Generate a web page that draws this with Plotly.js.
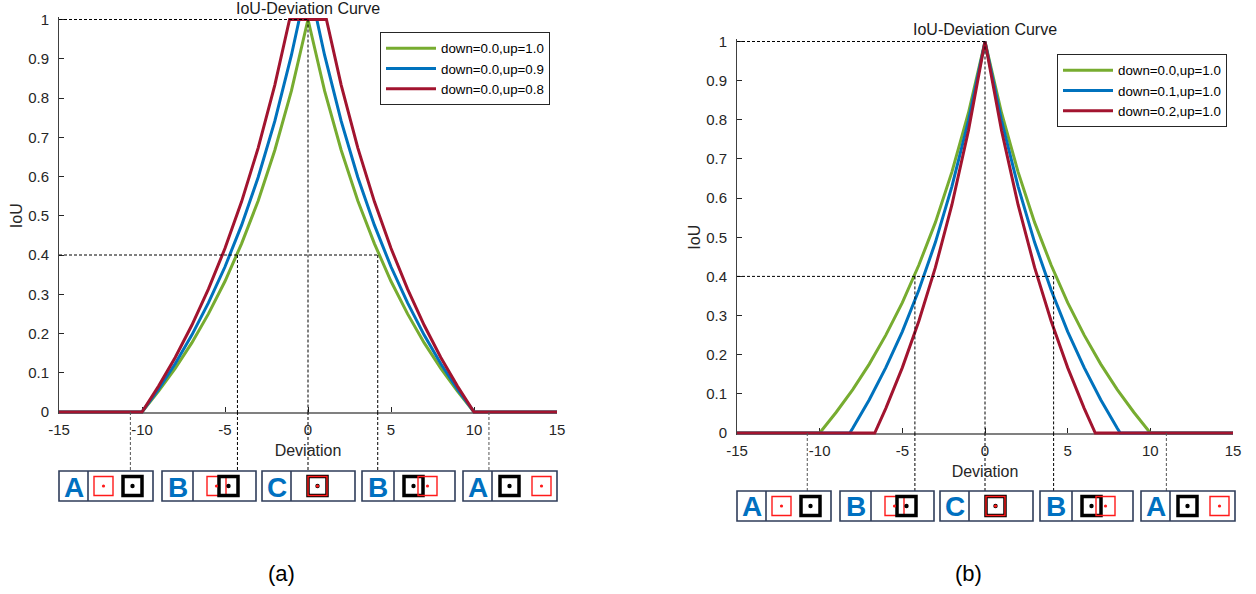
<!DOCTYPE html>
<html><head><meta charset="utf-8">
<script src="https://cdn.plot.ly/plotly-3.0.1.min.js"></script>
<style>html,body{margin:0;padding:0;background:#fff}#chart{width:1256px;height:594px}</style>
</head><body><div id="chart"></div>
<script>
// ---------------- data ----------------
// panel (a): down = 0.0, up = 1.0 / 0.9 / 0.8
const devGreenA = [-15,-10,-9,-8,-7,-6,-5,-4,-3,-2,-1,0,1,2,3,4,5,6,7,8,9,10,15];
const iouGreenA = [0,0,0.053,0.111,0.176,0.25,0.333,0.429,0.538,0.667,0.818,1,0.818,0.667,0.538,0.429,0.333,0.25,0.176,0.111,0.053,0,0];
const devBlueA  = [-15,-10,-9,-8,-7,-6,-5,-4,-3,-2,-1,-0.53,0.53,1,2,3,4,5,6,7,8,9,10,15];
const iouBlueA  = [0,0,0.058,0.123,0.196,0.278,0.370,0.476,0.598,0.741,0.909,1,1,0.909,0.741,0.598,0.476,0.370,0.278,0.196,0.123,0.058,0,0];
const devRedA   = [-15,-10,-9,-8,-7,-6,-5,-4,-3,-2,-1.11,1.11,2,3,4,5,6,7,8,9,10,15];
const iouRedA   = [0,0,0.066,0.139,0.221,0.313,0.417,0.536,0.673,0.833,1,1,0.833,0.673,0.536,0.417,0.313,0.221,0.139,0.066,0,0];
const namesA    = ['down=0.0,up=1.0','down=0.0,up=0.9','down=0.0,up=0.8'];

// panel (b): up = 1.0, down = 0.0 / 0.1 / 0.2
const devGreenB = [-15,-10,-9,-8,-7,-6,-5,-4,-3,-2,-1,0,1,2,3,4,5,6,7,8,9,10,15];
const iouGreenB = [0,0,0.053,0.111,0.176,0.25,0.333,0.429,0.538,0.667,0.818,1,0.818,0.667,0.538,0.429,0.333,0.25,0.176,0.111,0.053,0,0];
const devBlueB  = [-15,-8.18,-8,-7,-6,-5,-4,-3,-2,-1,0,1,2,3,4,5,6,7,8,8.18,15];
const iouBlueB  = [0,0,0.012,0.085,0.167,0.259,0.365,0.487,0.630,0.798,1,0.798,0.630,0.487,0.365,0.259,0.167,0.085,0.012,0,0];
const devRedB   = [-15,-6.67,-6,-5,-4,-3,-2,-1,0,1,2,3,4,5,6,6.67,15];
const iouRedB   = [0,0,0.063,0.167,0.286,0.423,0.583,0.773,1,0.773,0.583,0.423,0.286,0.167,0.063,0,0];
const namesB    = ['down=0.0,up=1.0','down=0.1,up=1.0','down=0.2,up=1.0'];

// axis ticks
const xTicks = [-15,-10,-5,0,5,10,15];
const xTickText = ['-15','-10','-5','0','5','10','15'];
const yTicks = [0,0.1,0.2,0.3,0.4,0.5,0.6,0.7,0.8,0.9,1];
const yTickText = ['0','0.1','0.2','0.3','0.4','0.5','0.6','0.7','0.8','0.9','1'];

// dashed reference guides (deviation where they stand, IoU where they start)
const guideDevA   = [-10.7,-4.25,0,4.2,10.9];
const guideFromA  = [0,0.4,1,0.4,0];
const levelA      = [1,0.4];
const levelEndA   = [0,4.2];
const guideDevB   = [-10.75,-4.24,0,4.15,10.97];
const guideFromB  = [0,0.4,1,0.4,0];
const levelB      = [1,0.4];
const levelEndB   = [0,4.15];

// box row labels
const boxLetters = ['A','B','C','B','A'];
const subLabels  = ['(a)','(b)'];
const chartTitle = 'IoU-Deviation Curve';

// ---------------- layout geometry ----------------
const W = 1256, H = 594;
const FONT = 'Liberation Sans, Arial, Helvetica, sans-serif';
const colors = ['#77AC30','#0072BD','#A2142F'];
const panels = [
  {xl:59,  xr:557,  y0:412, y1:19.5, boxTop:471, titleY:8.5, legX:380,  legY:32, labX:281, xa:'x',  ya:'y'},
  {xl:737, xr:1233, y0:433, y1:41.5, boxTop:491, titleY:30,  legX:1057, legY:54, labX:968, xa:'x2', ya:'y2'}
];
const PAD = 0.006;
const px = v => v / W;
const py = v => 1 - v / H;

const traces = [];
const series = [
  [[devGreenA,iouGreenA],[devBlueA,iouBlueA],[devRedA,iouRedA]],
  [[devGreenB,iouGreenB],[devBlueB,iouBlueB],[devRedB,iouRedB]]
];
const names = [namesA, namesB];
series.forEach((ser, p) => {
  ser.forEach((s, i) => {
    traces.push({
      type:'scatter', mode:'lines', x:s[0], y:s[1], name:names[p][i],
      xaxis:panels[p].xa, yaxis:panels[p].ya, legend: p === 0 ? 'legend' : 'legend2',
      line:{color:colors[i], width:3}, hoverinfo:'skip'
    });
  });
});

const layout = {
  width:W, height:H, margin:{l:0,r:0,t:0,b:0},
  paper_bgcolor:'#fff', plot_bgcolor:'rgba(0,0,0,0)',
  font:{family:FONT, color:'#262626', size:15},
  showlegend:true, shapes:[], annotations:[]
};

panels.forEach((P, p) => {
  const k = P.y0 - P.y1;
  const bot = P.y0 + PAD * k, top = P.y1 - PAD * k;
  const xName = p === 0 ? 'xaxis' : 'xaxis2';
  const yName = p === 0 ? 'yaxis' : 'yaxis2';
  layout[xName] = {
    domain:[px(P.xl), px(P.xr)], range:[-15,15], anchor:'free', position:py(P.y0),
    tickvals:xTicks, ticktext:xTickText, ticks:'inside', ticklen:5, tickcolor:'#262626', ticklabelstandoff:3,
    showline:true, linecolor:'#808080', linewidth:1.5, layer:'below traces',
    showgrid:false, zeroline:false, fixedrange:true,
    tickfont:{size:15, color:'#262626'},
    title:{text:'Deviation', font:{size:16, color:'#262626'}, standoff:8}
  };
  layout[yName] = {
    domain:[py(bot), py(top)], range:[-PAD, 1+PAD], anchor:P.xa,
    tickvals:yTicks, ticktext:yTickText, ticks:'inside', ticklen:5, tickcolor:'#262626', ticklabelstandoff:6,
    showline:true, linecolor:'#404040', linewidth:1, layer:'below traces',
    showgrid:false, zeroline:false, fixedrange:true,
    tickfont:{size:15, color:'#262626'},
    title:{text:'IoU', font:{size:16, color:'#262626'}, standoff:1}
  };
  layout[p === 0 ? 'legend' : 'legend2'] = {
    x:px(P.legX), y:py(P.legY), xanchor:'left', yanchor:'top',
    bgcolor:'#fff', bordercolor:'#262626', borderwidth:1,
    font:{size:13.3, color:'#000', family:FONT}, itemwidth:50, tracegroupgap:0
  };

  // title + sub label
  layout.annotations.push({xref:'paper', yref:'paper', x:px((P.xl+P.xr)/2), y:py(P.titleY),
    xanchor:'center', yanchor:'middle', showarrow:false, text:chartTitle,
    font:{size:16, color:'#1a1a1a'}});
  layout.annotations.push({xref:'paper', yref:'paper', x:px(P.labX), y:py(573),
    xanchor:'center', yanchor:'middle', showarrow:false, text:subLabels[p],
    font:{size:22, color:'#000'}});

  // dashed guides
  const gDev = p === 0 ? guideDevA : guideDevB;
  const gFrom = p === 0 ? guideFromA : guideFromB;
  const lv = p === 0 ? levelA : levelB;
  const lvEnd = p === 0 ? levelEndA : levelEndB;
  const dash = '3px,2px';
  lv.forEach((L, i) => {
    layout.shapes.push({type:'line', xref:P.xa, yref:P.ya, x0:-15, x1:lvEnd[i], y0:L, y1:L,
      line:{color:'#000', width:1, dash:dash}});
  });
  gDev.forEach((d, i) => {
    const col = Math.abs(d) > 10 ? '#555' : '#000';
    if (gFrom[i] > 0) {
      layout.shapes.push({type:'line', xref:P.xa, yref:P.ya, x0:d, x1:d, y0:gFrom[i], y1:0,
        line:{color:col, width:1, dash:dash}});
    }
    layout.shapes.push({type:'line', xref:P.xa, yref:'paper', x0:d, x1:d, y0:py(P.y0), y1:py(P.boxTop),
      line:{color:col, width:1, dash:dash}});
  });

  // box row
  const boxes = [[0,94,29],[103,197,134],[203,296,232],[303,396,335],[404,498,433]];
  const sq = [
    [['red',35],['black',64]],
    [['red',148],['black',160]],
    [['black',249],['red',249]],
    [['black',345],['red',359]],
    [['black',441],['red',473]]
  ];
  const bt = P.boxTop, bh = 30, S = 19;
  boxes.forEach((b, i) => {
    layout.shapes.push({type:'rect', xref:'paper', yref:'paper',
      x0:px(P.xl+b[0]), x1:px(P.xl+b[1]), y0:py(bt), y1:py(bt+bh),
      line:{color:'#2f3d5a', width:1.6}, fillcolor:'#fff', layer:'above'});
    layout.shapes.push({type:'line', xref:'paper', yref:'paper',
      x0:px(P.xl+b[2]), x1:px(P.xl+b[2]), y0:py(bt), y1:py(bt+bh),
      line:{color:'#2f3d5a', width:1.6}});
    sq[i].forEach(s => {
      const x0 = P.xl + s[1], y0 = bt + 5.5;
      const isB = s[0] === 'black';
      layout.shapes.push({type:'rect', xref:'paper', yref:'paper',
        x0:px(x0), x1:px(x0+S), y0:py(y0), y1:py(y0+S),
        line:{color:isB ? '#000' : '#ff1a1a', width:isB ? 3.5 : 1.4}});
    });
    sq[i].forEach(s => {
      const cx = P.xl + s[1] + S/2, cy = bt + 5.5 + S/2;
      const r = s[0] === 'black' ? 2.2 : 1.6;
      layout.shapes.push({type:'circle', xref:'paper', yref:'paper',
        x0:px(cx-r), x1:px(cx+r), y0:py(cy-r), y1:py(cy+r),
        line:{width:0}, fillcolor:s[0] === 'black' ? '#000' : '#ff1a1a'});
    });
    layout.annotations.push({xref:'paper', yref:'paper', x:px(P.xl + (b[0]+b[2])/2), y:py(bt+bh/2+1),
      xanchor:'center', yanchor:'middle', showarrow:false, text:'<b>'+boxLetters[i]+'</b>',
      font:{size:28, color:'#0070C0', family:FONT}});
  });
});

Plotly.newPlot('chart', traces, layout, {displayModeBar:false, staticPlot:true});
</script>
</body></html>
